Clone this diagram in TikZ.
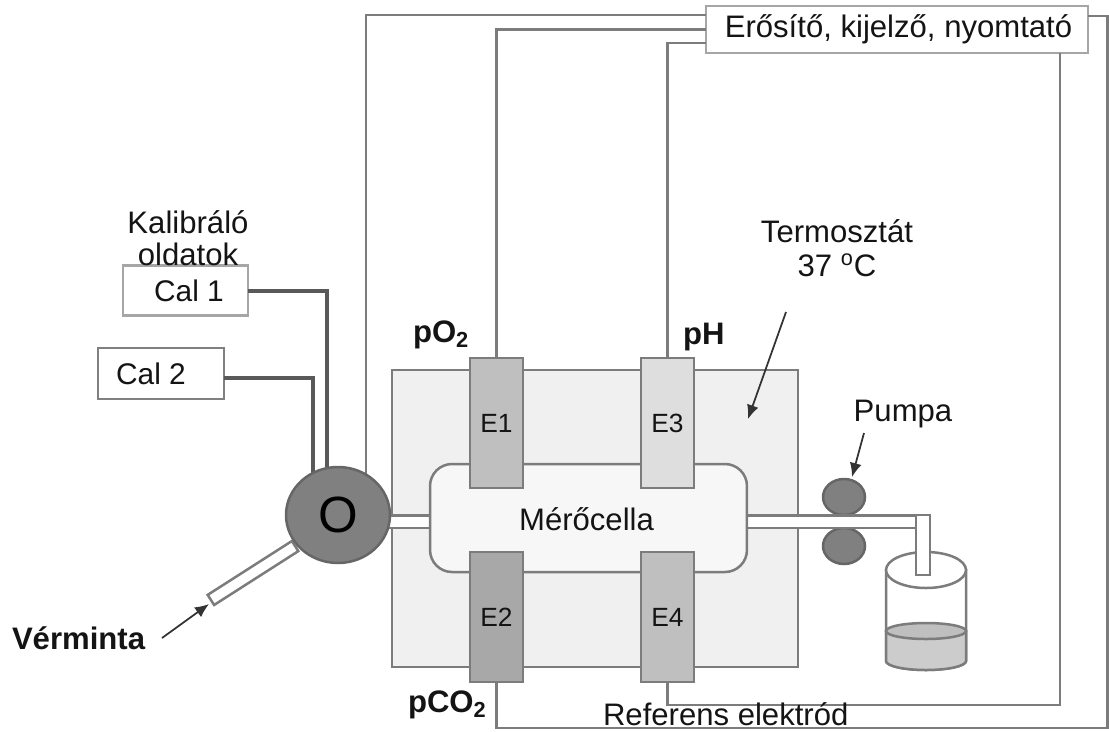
\documentclass[tikz,border=0pt]{standalone}
\usepackage{fontspec}
\setmainfont{Liberation Sans}
\usetikzlibrary{shapes.geometric,arrows.meta}
\definecolor{wire}{HTML}{7C7C7C}
\begin{document}
\begin{tikzpicture}[x=0.02cm,y=-0.02cm,
    every node/.style={font=\fontsize{17.7}{18}\selectfont,text=black!92,inner sep=0,outer sep=0},
    main node/.style={rectangle,draw=wire,line width=.05cm,minimum width=1.06cm,minimum height=2.6cm,font=\fontsize{15}{16}\selectfont},
    cal node/.style={rectangle,draw=black!35,line width=.05cm,fill=white,minimum width=2.5cm,minimum height=1cm,font=\fontsize{17}{18}\selectfont},
    tube node/.style={rectangle,draw=wire,line width=.05cm,fill=white},
    pump node/.style={ellipse,draw=black!60,line width=.05cm,fill=black!50,minimum width=.84cm,minimum height=.72cm},
    bold label/.style={font=\fontsize{17.7}{18}\selectfont\bfseries,anchor=west},
    wire line/.style={draw=wire,line width=.05cm},
    cal line/.style={draw=black!65,line width=.08cm},
    pointer/.style={draw=black!80,line width=.035cm,-{Latex[length=.28cm,width=.24cm]}}]
        \useasboundingbox (0,0) rectangle (1109,731);

        % thermostat, pump and tubes
        \node[rectangle,draw=wire,line width=.05cm,fill=black!6,minimum width=8.12cm,minimum height=5.94cm] at (595,518.5) (thermo) {};
        \node[pump node] at (844,497) (pump1) {};
        \node[pump node] at (844,546) (pump2) {};
        \node[tube node,minimum width=1cm,minimum height=.25cm] at (410,521.5) (tube1) {};
        \node[tube node,minimum width=3.6cm,minimum height=.25cm,anchor=west] at (740,521.5) (tube2) {};
        \node[rounded corners=.44cm,rectangle,draw=wire,line width=.05cm,fill=black!3,minimum width=6.34cm,minimum height=2.16cm] at (588.5,518) (cell) {};

        % free ends
        \coordinate (w1) at (366,480);
        \coordinate (v1) at (327,480);
        \coordinate (v2) at (313,485);
        \coordinate (c1) at (1107.5,728);
        \coordinate (c3) at (1060,705);
        \coordinate (termo1) at (786,312);
        \coordinate (termo2) at (748,419);
        \coordinate (pumpa1) at (864,433);
        \coordinate (pumpa2) at (852,477);
        \coordinate (minta1) at (162,638);
        \coordinate (minta2) at (209,604);

        \node[cal node,minimum width=7.64cm,minimum height=.94cm,font=\fontsize{17.7}{18}\selectfont] at (897,29.5) (amp) {\hspace*{.06cm}Erősítő, kijelző, nyomtató};
        \node[cal node] at (185.5,290.5) (cal1) {\hspace*{.14cm}Cal 1};
        \node[cal node,draw=black!50,minimum width=2.52cm,minimum height=1.02cm] at (161,373.5) (cal2) {Cal 2\hspace*{.4cm}};

        \node[main node,fill=black!25] at (496.5,423) (e1) {E1};
        \node[main node,fill=black!34] at (496.5,617) (e2) {E2};
        \node[main node,fill=black!13] at (667.5,423) (e3) {E3};
        \node[main node,fill=black!25] at (667.5,617) (e4) {E4};
        \node at (586.5,519) (cella) {Mérőcella};

        % wires
        \draw[wire line] (e1.north) |- (amp.west);
        \draw[wire line] (e3.north) |- ([yshift=-.27cm]amp.west);
        \draw[wire line] (w1) |- ([yshift=.29cm]amp.west);
        \draw[wire line] (e4.south) |- (c3) -- (amp.south -| c3);
        \draw[wire line] (e2.south) |- (c1) |- ([yshift=.27cm]amp.east);
        \draw[cal line] (cal1.east) -| (v1);
        \draw[cal line] ([yshift=-.09cm]cal2.east) -| (v2);

        % sample tube and valve
        \node[rotate=32.6,tube node,minimum width=2cm,minimum height=.24cm] at (253,573) (sample) {};
        \node[ellipse,draw=black!60,line width=.05cm,fill=black!50,minimum width=2.08cm,minimum height=1.92cm,font=\fontsize{29}{30}\selectfont,text=black] at (338,515) (valve) {O};

        % beaker
        \draw[wire line,fill=white] (886,570) -- (886,661) arc[x radius=40,y radius=9,start angle=180,end angle=0] -- (966,570) -- cycle;
        \draw[wire line,fill=black!20] (886,631) -- (886,661) arc[x radius=40,y radius=9,start angle=180,end angle=0] -- (966,631) -- cycle;
        \draw[wire line,fill=black!25] (926,631) ellipse[x radius=40,y radius=8];
        \draw[wire line,fill=white] (926,570) ellipse[x radius=40,y radius=18];
        \node[tube node,minimum width=.28cm,minimum height=1.2cm] at (923,545) (tube3) {};

        \draw[pointer] (termo1) -- (termo2);
        \draw[pointer] (pumpa1) -- (pumpa2);
        \draw[pointer] (minta1) -- (minta2);

        % labels
        \node[align=center] at (188,238.5) (kalib) {Kalibráló\\oldatok};
        \node[align=center] at (837,248) (termo) {Termosztát\\[1.5pt]37 \textsuperscript{o}C};
        \node at (903,414) (pumpa) {Pumpa};
        \node[bold label] at (12,638) (minta) {Vérminta};
        \node[bold label] at (413,335) (po2) {pO\textsubscript{2}};
        \node[bold label] at (683,337) (ph) {pH};
        \node[bold label] at (408,705) (pco2) {pCO\textsubscript{2}};
        \node[anchor=west] at (603,714) (ref) {Referens elektród};
        \end{tikzpicture}
\end{document}
